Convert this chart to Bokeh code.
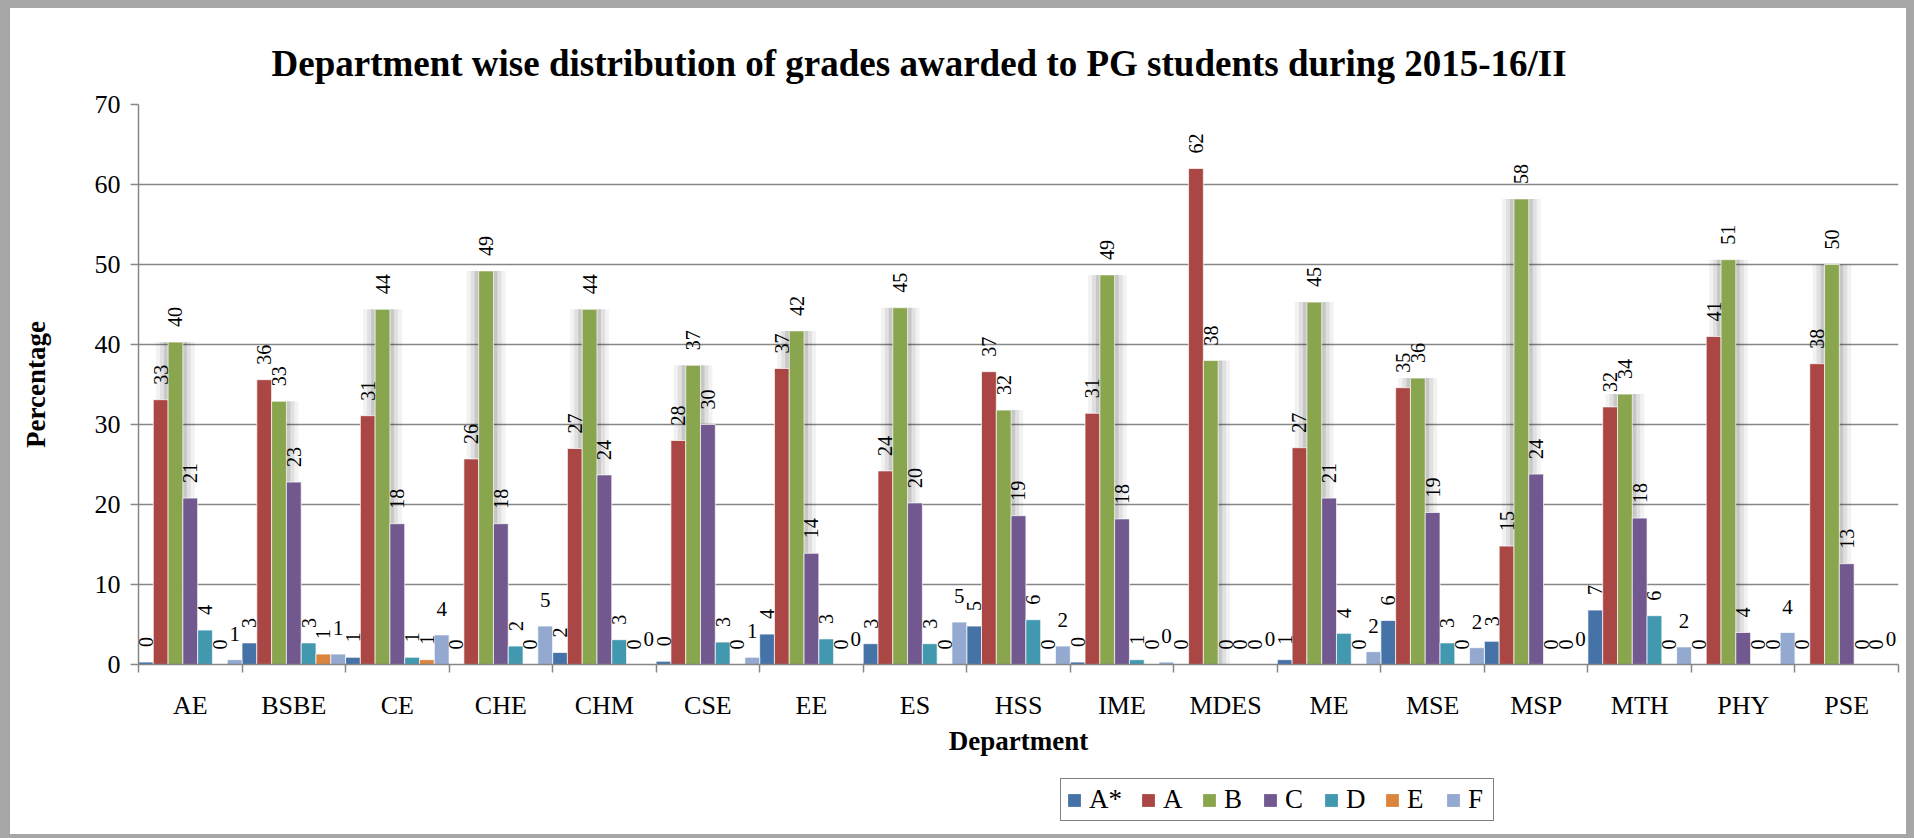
import numpy as np
from bokeh.plotting import figure
from bokeh.layouts import column
from bokeh.models import (ColumnDataSource, Range1d, FixedTicker, LabelSet,
                          Legend, LegendItem)
from bokeh.embed import file_html
from bokeh.resources import INLINE

# ---------------- data ----------------
departments = ["AE", "BSBE", "CE", "CHE", "CHM", "CSE", "EE", "ES", "HSS", "IME",
               "MDES", "ME", "MSE", "MSP", "MTH", "PHY", "PSE"]
grades = ["A*", "A", "B", "C", "D", "E", "F"]
a_star = [0.3, 2.7, 0.9, 0.0, 1.5, 0.4, 3.8, 2.6, 4.8, 0.3, 0.0, 0.6, 5.5, 2.9, 6.8, 0.0, 0.0]
a_vals = [33.1, 35.6, 31.1, 25.7, 27.0, 28.0, 37.0, 24.2, 36.6, 31.4, 62.0, 27.1, 34.6, 14.8, 32.2, 41.0, 37.6]
b_vals = [40.3, 32.9, 44.4, 49.2, 44.4, 37.4, 41.7, 44.6, 31.8, 48.7, 38.0, 45.3, 35.8, 58.2, 33.8, 50.6, 50.0]
c_vals = [20.8, 22.8, 17.6, 17.6, 23.7, 30.0, 13.9, 20.2, 18.6, 18.2, 0.0, 20.8, 19.0, 23.8, 18.3, 4.0, 12.6]
d_vals = [4.3, 2.7, 0.9, 2.3, 3.1, 2.8, 3.2, 2.6, 5.6, 0.6, 0.0, 3.9, 2.7, 0.0, 6.1, 0.0, 0.0]
e_vals = [0.0, 1.3, 0.6, 0.0, 0.0, 0.0, 0.0, 0.0, 0.0, 0.0, 0.0, 0.0, 0.0, 0.0, 0.0, 0.0, 0.0]
f_vals = [0.6, 1.3, 3.7, 4.8, 0.0, 0.9, 0.0, 5.3, 2.3, 0.3, 0.0, 1.6, 2.1, 0.0, 2.2, 4.0, 0.0]
series = [a_star, a_vals, b_vals, c_vals, d_vals, e_vals, f_vals]
colors = ["#4572A7", "#AA4643", "#89A54E", "#71588F", "#4198AF", "#DB843D", "#93A9CF"]

title_text = "Department wise distribution of grades awarded to PG students during 2015-16/II"

# ---------------- main figure ----------------
W = 1914
H_MAIN, H_LEG = 760, 78
p = figure(width=W, height=H_MAIN, output_backend="svg", toolbar_location=None,
           x_range=Range1d(0, len(departments)), y_range=Range1d(0, 70),
           min_border_left=138, min_border_right=16, min_border_top=104,
           min_border_bottom=96)
p.outline_line_color = None
p.background_fill_color = "white"
p.border_fill_alpha = 0.0

n = len(grades)
bw = 1.0 / n
idx = np.arange(len(departments))

# soft glow behind the B bars
px = 1.0 / 103.5
for extra, alpha in [(12, 0.05), (8, 0.07), (4, 0.11)]:
    p.vbar(x=idx + (2 + 0.5) * bw, top=np.array(b_vals), width=bw + 2 * extra * px,
           bottom=0, fill_color="black", fill_alpha=alpha, line_color=None)

renderers = []
rot_x, rot_y, rot_t = [], [], []
hor_x, hor_y, hor_t = [], [], []
for k, (g, vals, col) in enumerate(zip(grades, series, colors)):
    xs = idx + (k + 0.5) * bw
    src = ColumnDataSource(dict(x=xs, top=vals))
    r = p.vbar(x="x", top="top", width=bw, bottom=0, source=src,
               fill_color=col, line_color="white", line_width=0.7)
    renderers.append(r)
    for xv, v in zip(xs, vals):
        lab = str(int(np.floor(v + 0.5)))
        if g == "F":
            hor_x.append(xv); hor_y.append(v); hor_t.append(lab)
        else:
            rot_x.append(xv); rot_y.append(v); rot_t.append(lab)

rot_src = ColumnDataSource(dict(x=rot_x, y=rot_y, t=rot_t))
hor_src = ColumnDataSource(dict(x=hor_x, y=hor_y, t=hor_t))
p.add_layout(LabelSet(x="x", y="y", text="t", source=rot_src, angle=np.pi / 2,
                      y_offset=15, text_align="left", text_baseline="middle",
                      text_font="Liberation Sans", text_font_size="20px",
                      text_color="black"))
p.add_layout(LabelSet(x="x", y="y", text="t", source=hor_src,
                      y_offset=19, text_align="center", text_baseline="alphabetic",
                      text_font="Liberation Sans", text_font_size="21px",
                      text_color="black"))

# ---------------- axes ----------------
axis_gray = "#868686"
p.xaxis.ticker = FixedTicker(ticks=[i + 0.5 for i in range(len(departments))],
                             minor_ticks=list(range(len(departments) + 1)))
p.xaxis.major_label_overrides = {i + 0.5: d for i, d in enumerate(departments)}
p.xaxis.major_tick_out = 0
p.xaxis.major_tick_in = 0
p.xaxis.minor_tick_out = 8
p.xaxis.minor_tick_in = 0
p.xaxis.minor_tick_line_color = axis_gray
p.xaxis.minor_tick_line_width = 1.5
p.xaxis.axis_line_color = axis_gray
p.xaxis.axis_line_width = 1.5
p.xaxis.major_label_standoff = 18
p.xaxis.major_label_text_font = "Liberation Serif"
p.xaxis.major_label_text_font_size = "26px"
p.xaxis.major_label_text_color = "black"
p.xaxis.axis_label = "Department"
p.xaxis.axis_label_text_font = "Liberation Serif"
p.xaxis.axis_label_text_font_size = "27px"
p.xaxis.axis_label_text_font_style = "bold"
p.xaxis.axis_label_text_color = "black"
p.xaxis.axis_label_standoff = 3

p.yaxis.ticker = FixedTicker(ticks=list(range(0, 71, 10)), minor_ticks=[])
p.yaxis.major_tick_out = 8
p.yaxis.major_tick_in = 0
p.yaxis.major_tick_line_color = axis_gray
p.yaxis.major_tick_line_width = 1.5
p.yaxis.minor_tick_line_color = None
p.yaxis.axis_line_color = axis_gray
p.yaxis.axis_line_width = 1.5
p.yaxis.major_label_standoff = 10
p.yaxis.major_label_text_font = "Liberation Serif"
p.yaxis.major_label_text_font_size = "26px"
p.yaxis.major_label_text_color = "black"
p.yaxis.axis_label = "Percentage"
p.yaxis.axis_label_text_font = "Liberation Serif"
p.yaxis.axis_label_text_font_size = "27px"
p.yaxis.axis_label_text_font_style = "bold"
p.yaxis.axis_label_text_color = "black"
p.yaxis.axis_label_standoff = 41

p.xgrid.visible = False
p.ygrid.grid_line_color = axis_gray
p.ygrid.grid_line_width = 1.5

# ---------------- title ----------------
p.title.text = title_text
p.title.text_font = "Liberation Serif"
p.title.text_font_size = "37px"
p.title.text_font_style = "bold"
p.title.text_color = "black"
p.title.align = "left"
p.title.offset = 133
p.title.standoff = 42

# ---------------- legend strip ----------------
p2 = figure(width=W, height=H_LEG, output_backend="svg", toolbar_location=None,
            x_range=Range1d(0, 1), y_range=Range1d(0, 1), title=None,
            x_axis_type=None, y_axis_type=None, min_border=0)
p2.outline_line_color = None
p2.background_fill_alpha = 0.0
p2.border_fill_alpha = 0.0
p2.xgrid.visible = False
p2.ygrid.visible = False
leg_renderers = []
for g, col in zip(grades, colors):
    # zero-height swatch per series, only used to draw the legend key
    leg_renderers.append(p2.vbar(x=[0.5], top=[0.0], bottom=[0.0], width=0.01,
                                 fill_color=col, line_color=None))

legend = Legend(items=[LegendItem(label=g, renderers=[r]) for g, r in zip(grades, leg_renderers)],
                orientation="horizontal", location=(922, 17))
legend.border_line_color = "black"
legend.border_line_width = 1.5
legend.background_fill_color = "white"
legend.background_fill_alpha = 1.0
legend.label_text_font = "Liberation Serif"
legend.label_text_font_size = "27px"
legend.label_text_color = "black"
legend.glyph_width = 16
legend.glyph_height = 16
legend.label_height = 16
legend.label_standoff = 7
legend.spacing = 18
legend.padding = 5
legend.margin = 0
p2.add_layout(legend)

layout = column(p, p2, spacing=0,
                styles={"background-color": "white",
                        "box-shadow": "inset 10px 8px 0px 0px #a6a6a6, inset -8px -4px 0px 0px #a6a6a6"})

open("out.html", "w").write(file_html(layout, INLINE))
